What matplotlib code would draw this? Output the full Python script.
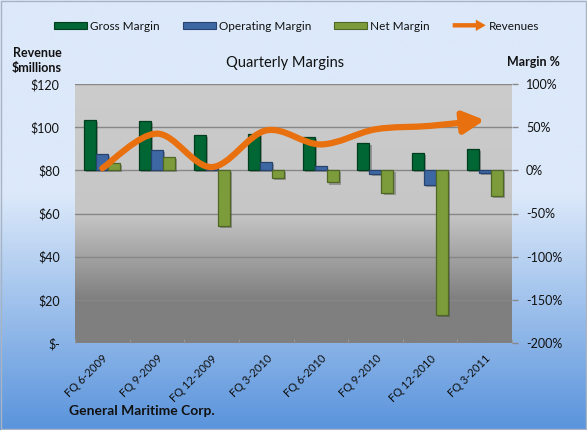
import numpy as np
import matplotlib
matplotlib.use("Agg")
import matplotlib.pyplot as plt
from matplotlib.path import Path
from matplotlib.patches import FancyArrowPatch, Rectangle, FancyArrow, Patch
from matplotlib.legend_handler import HandlerPatch
from matplotlib.colors import LinearSegmentedColormap
import matplotlib.patheffects as pe

plt.rcParams['font.family'] = ['Lato', 'DejaVu Sans']

quarters = ["FQ 6-2009", "FQ 9-2009", "FQ 12-2009", "FQ 3-2010",
            "FQ 6-2010", "FQ 9-2010", "FQ 12-2010", "FQ 3-2011"]
gross_margin = [58, 57, 40.5, 42, 39, 31.5, 20, 25]
operating_margin = [19, 24, 3, 9.5, 4.5, -4, -17, -3]
net_margin = [8.5, 15, -64, -8.5, -14, -26, -167, -30]
revenues = [81, 97, 81.5, 98.5, 92, 99, 100.6, 103.3]

rev_ticks = [0, 20, 40, 60, 80, 100, 120]
rev_labels = ["$-", "$20", "$40", "$60", "$80", "$100", "$120"]
pct_ticks = [-200, -150, -100, -50, 0, 50, 100]
pct_labels = ["-200%", "-150%", "-100%", "-50%", "0%", "50%", "100%"]

C_GROSS = "#006633"
C_GROSS_E = "#003d1f"
C_OP = "#3d67a3"
C_OP_E = "#26446e"
C_NET = "#7c9c3c"
C_NET_E = "#4f6624"
C_REV = "#e8700e"

W, H = 587, 430
fig = plt.figure(figsize=(W / 100, H / 100), dpi=100)

# figure background gradient
bg = fig.add_axes([0, 0, 1, 1], zorder=-10)
bg.axis("off")
bg_cmap = LinearSegmentedColormap.from_list(
    "bgc", [(0.0, "#5a94dc"), (0.55, "#dce9fa"), (1.0, "#dce9fa")])
bg.imshow(np.linspace(0, 1, 256).reshape(-1, 1), cmap=bg_cmap, aspect="auto",
          extent=[0, 1, 0, 1], origin="lower")
bg.set_xlim(0, 1)
bg.set_ylim(0, 1)
fig.patches.append(Rectangle((0.002, 0.002), 0.996, 0.995, transform=fig.transFigure,
                             fill=False, edgecolor="#a8b4c4", lw=1.0))

ax = fig.add_axes([75 / W, 1 - 343 / H, 437 / W, 259 / H])
ax.patch.set_alpha(0)
pa_cmap = LinearSegmentedColormap.from_list(
    "pac", [(0.0, "#7f7f7f"), (0.17, "#808080"), (0.5, "#c6c6c6"), (1.0, "#cccccc")])
ax.imshow(np.linspace(0, 1, 256).reshape(-1, 1), cmap=pa_cmap, aspect="auto",
          extent=[0, 1, 0, 1], origin="lower", transform=ax.transAxes, zorder=-5)

x = np.arange(len(quarters))
bw = 0.22
shadow = [pe.withSimplePatchShadow(offset=(1.5, -1.5), alpha=0.35, shadow_rgbFace="#333333")]
b1 = ax.bar(x - bw, gross_margin, bw, color=C_GROSS, edgecolor=C_GROSS_E, lw=0.9, zorder=3)
b2 = ax.bar(x, operating_margin, bw, color=C_OP, edgecolor=C_OP_E, lw=0.9, zorder=3)
b3 = ax.bar(x + bw, net_margin, bw, color=C_NET, edgecolor=C_NET_E, lw=0.9, zorder=3)
for bars in (b1, b2, b3):
    for b in bars:
        b.set_path_effects(shadow)

ax.set_xlim(-0.5, len(quarters) - 0.5)
ax.set_ylim(-200, 100)
ax.set_yticks(pct_ticks)
ax.set_yticklabels(pct_labels)
ax.yaxis.grid(True, color="#878787", lw=1.0, zorder=1)
ax.set_axisbelow(True)
for s in ax.spines.values():
    s.set_visible(False)

ax2 = ax.twinx()
ax2.set_ylim(0, 120)
ax2.set_yticks(rev_ticks)
ax2.set_yticklabels(rev_labels)
for s in ax2.spines.values():
    s.set_visible(False)

ax.yaxis.tick_right()
ax.yaxis.set_label_position("right")
ax2.yaxis.tick_left()
ax2.yaxis.set_label_position("left")
ax.tick_params(axis="y", which="both", right=True, left=False, labelright=True, labelleft=False,
               length=4, width=1, color="#888888", pad=6, labelsize=9, labelcolor="#111111")
ax2.tick_params(axis="y", which="both", left=True, right=False, labelleft=True, labelright=False,
                length=0, pad=11, labelsize=9, labelcolor="#111111")

ax.set_xticks(x)
ax.set_xticklabels(quarters, rotation=45, ha="right", rotation_mode="anchor", fontsize=8,
                   color="#111111")
ax.tick_params(axis="x", which="major", length=0, pad=7)
ax.set_xticks(np.arange(len(quarters) + 1) - 0.5, minor=True)
ax.tick_params(axis="x", which="minor", direction="in", length=3, color="#9a9a9a")

# smoothed revenue line (Bezier through data points) with arrow head
pts = np.column_stack([x, revenues]).astype(float)
ext = np.vstack([pts[0], pts, pts[-1]])
verts = [tuple(pts[0])]
codes = [Path.MOVETO]
for i in range(len(pts) - 1):
    p0, p1, p2, p3 = ext[i], ext[i + 1], ext[i + 2], ext[i + 3]
    c1 = p1 + (p2 - p0) / 6.0
    c2 = p2 - (p3 - p1) / 6.0
    verts += [tuple(c1), tuple(c2), tuple(p2)]
    codes += [Path.CURVE4] * 3
rev_path = Path(verts, codes)
arrow = FancyArrowPatch(path=rev_path, arrowstyle="-|>,head_length=1.05,head_width=0.55",
                        mutation_scale=12, color=C_REV, lw=4.5, capstyle="round",
                        joinstyle="round", transform=ax2.transData, zorder=5)
ax2.add_patch(arrow)

# legend
def make_arrow(legend, orig_handle, xdescent, ydescent, width, height, fontsize):
    return FancyArrow(-xdescent, height / 2 - ydescent, width, 0, width=height * 0.65,
                      head_width=height * 1.7, head_length=width * 0.3,
                      length_includes_head=True)

h_g = Patch(facecolor=C_GROSS, edgecolor=C_GROSS_E, lw=0.8)
h_o = Patch(facecolor=C_OP, edgecolor=C_OP_E, lw=0.8)
h_n = Patch(facecolor=C_NET, edgecolor=C_NET_E, lw=0.8)
h_r = Patch(facecolor=C_REV, edgecolor=C_REV, lw=0)
leg = fig.legend([h_g, h_o, h_n, h_r], ["Gross Margin", "Operating Margin", "Net Margin", "Revenues"],
                 loc="center", bbox_to_anchor=(296.5 / W, 1 - 26 / H), ncol=4, frameon=False,
                 fontsize=8.5, handlelength=2.8, handleheight=0.5, handletextpad=0.25,
                 columnspacing=1.95, borderpad=0, borderaxespad=0,
                 handler_map={h_r: HandlerPatch(patch_func=make_arrow)})
for t in leg.get_texts():
    t.set_color("#111111")

fig.text(62 / W, 1 - 53 / H, "Revenue", ha="right", va="center", fontsize=9, fontweight="bold",
         color="#111111")
fig.text(62 / W, 1 - 68 / H, "$millions", ha="right", va="center", fontsize=9, fontweight="bold",
         color="#111111")
fig.text(285.5 / W, 1 - 63 / H, "Quarterly Margins", ha="center", va="center", fontsize=10.5,
         color="#111111")
fig.text(533 / W, 1 - 62 / H, "Margin %", ha="center", va="center", fontsize=9, fontweight="bold",
         color="#111111")
fig.text(69 / W, 1 - 411 / H, "General Maritime Corp.", ha="left", va="center", fontsize=10,
         fontweight="bold", color="#111111")

fig.savefig("out.png", dpi=100)
